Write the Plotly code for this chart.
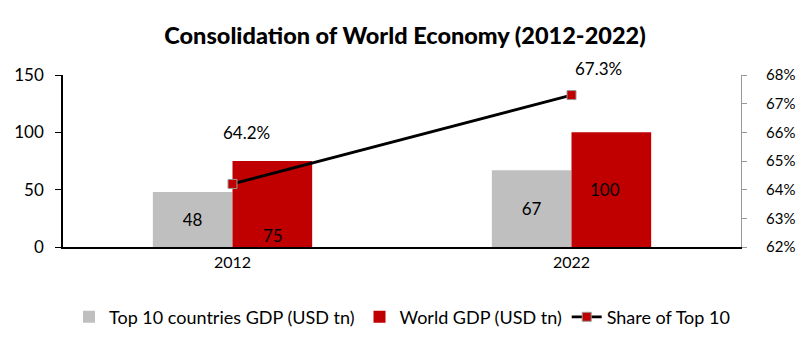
import plotly.graph_objects as go

years = ["2012", "2022"]
top10_gdp = [48, 67]
world_gdp = [75, 100]
share_top10 = [64.2, 67.3]
share_labels = ["64.2%", "67.3%"]

FONT = "Lato"

fig = go.Figure()
fig.add_trace(go.Bar(
    x=years, y=top10_gdp, name="Top 10 countries GDP (USD tn)",
    marker=dict(color="#BFBFBF", line=dict(width=0)),
    text=[str(v) for v in top10_gdp], textposition="inside",
    insidetextanchor="middle", textfont=dict(color="black", size=17, family=FONT),
))
fig.add_trace(go.Bar(
    x=years, y=world_gdp, name="World GDP (USD tn)",
    marker=dict(color="#C00000", line=dict(width=0)),
))
fig.add_trace(go.Scatter(
    x=years, y=share_top10, name="Share of Top 10", yaxis="y2",
    mode="lines+markers",
    line=dict(color="black", width=2.8),
    marker=dict(symbol="square", size=9, color="#C00000", line=dict(color="#999999", width=1)),
))

annotations = []
# World GDP labels (Excel-like placement); x given as category index
annotations.append(dict(x=0, y=0, yref="y", text=str(world_gdp[0]),
                        showarrow=False, xshift=40, yshift=-1, yanchor="bottom",
                        font=dict(size=17, family=FONT, color="black")))
annotations.append(dict(x=1, y=world_gdp[1] / 2, yref="y", text=str(world_gdp[1]),
                        showarrow=False, xshift=33,
                        font=dict(size=17, family=FONT, color="black")))
label_xshift = [14, 27]
label_yshift = [51, 27]
for i, (v, lab) in enumerate(zip(share_top10, share_labels)):
    annotations.append(dict(x=i, y=v, yref="y2", text=lab, showarrow=False,
                            xshift=label_xshift[i], yshift=label_yshift[i],
                            font=dict(size=17, family=FONT, color="black")))

fig.update_layout(
    width=810, height=354,
    margin=dict(l=63, r=69, t=75, b=107),
    paper_bgcolor="white", plot_bgcolor="white",
    title=dict(text="Consolidation of World Economy (2012-2022)",
               x=0.5, xanchor="center", y=0.9, yanchor="middle",
               font=dict(size=23.5, family=FONT, color="black", weight=900)),
    barmode="group", bargap=0.53, bargroupgap=0,
    font=dict(family=FONT, size=16, color="black"),
    xaxis=dict(type="category", range=[-0.5, 1.5], showline=True, linecolor="black",
               linewidth=1.5, ticks="", tickfont=dict(size=16, family=FONT), showgrid=False),
    yaxis=dict(range=[0, 150], tickvals=[0, 50, 100, 150], showgrid=False,
               showline=True, linecolor="black", linewidth=1.5, ticks="outside",
               ticklen=6, tickcolor="black", tickfont=dict(size=17, family=FONT),
               ticklabelstandoff=8, zeroline=False),
    yaxis2=dict(range=[62, 68], tickvals=[62, 63, 64, 65, 66, 67, 68],
                ticktext=["62%", "63%", "64%", "65%", "66%", "67%", "68%"],
                overlaying="y", side="right", showgrid=False, showline=True,
                linecolor="#999999", linewidth=1, ticks="outside", ticklen=5,
                tickcolor="#999999", tickfont=dict(size=15, family=FONT),
                ticklabelstandoff=16, zeroline=False),
    legend=dict(orientation="h", x=0.5, xanchor="center", y=-0.3, yanchor="top",
                font=dict(size=18, family=FONT), traceorder="normal"),
    annotations=annotations,
    showlegend=True,
)

fig.write_html("out.html")
